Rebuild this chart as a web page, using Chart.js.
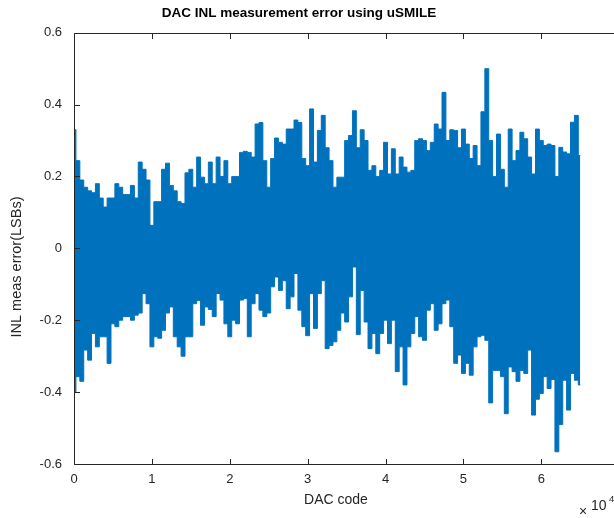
<!DOCTYPE html>
<html>
<head>
<meta charset="utf-8">
<script src="https://cdn.jsdelivr.net/npm/chart.js@4.4.1/dist/chart.umd.min.js"></script>
<style>
  html, body { margin: 0; padding: 0; background: #fff; overflow: hidden; }
  #wrap { width: 640px; height: 518px; }
</style>
</head>
<body>
<div id="wrap"><canvas id="inlchart" width="640" height="518"></canvas></div>
<script>
// envelope of the measured error, one pair per 500 DAC codes (0 .. 65000)
var codeStep = 500;

var upperEnv = [
	0.33, 0.244, 0.19, 0.17, 0.16, 0.155, 0.18, 0.14, 0.115, 0.14, 0.14, 0.18, 0.17, 0.15, 0.15, 0.175,
	0.14, 0.24, 0.22, 0.19, 0.064, 0.13, 0.13, 0.22, 0.237, 0.175, 0.16, 0.13, 0.125, 0.21, 0.22,
	0.17, 0.254, 0.198, 0.18, 0.24, 0.18, 0.254, 0.2, 0.244, 0.18, 0.2, 0.2, 0.267, 0.27, 0.267,
	0.254, 0.346, 0.35, 0.244, 0.17, 0.25, 0.307, 0.295, 0.29, 0.332, 0.332, 0.357, 0.35, 0.25, 0.23,
	0.388, 0.24, 0.328, 0.37, 0.28, 0.244, 0.17, 0.198, 0.198, 0.3, 0.314, 0.383, 0.28, 0.33, 0.3,
	0.217, 0.23, 0.2, 0.217, 0.295, 0.207, 0.277, 0.207, 0.254, 0.226, 0.212, 0.217, 0.3, 0.305, 0.3,
	0.272, 0.295, 0.346, 0.332, 0.434, 0.3, 0.33, 0.328, 0.28, 0.332, 0.29, 0.25, 0.286, 0.23, 0.38,
	0.5, 0.3, 0.2, 0.318, 0.22, 0.17, 0.332, 0.244, 0.272, 0.323, 0.305, 0.254, 0.207, 0.332, 0.3,
	0.286, 0.29, 0.286, 0.2, 0.281, 0.268, 0.263, 0.351, 0.37, 0.258
];

var lowerEnv = [
	-0.40, -0.357, -0.37, -0.283, -0.311, -0.237, -0.274, -0.246, -0.246, -0.32, -0.21, -0.218, -0.2, -0.19, -0.19, -0.2,
	-0.186, -0.18, -0.126, -0.154, -0.274, -0.246, -0.25, -0.228, -0.18, -0.163, -0.246, -0.274, -0.30, -0.246, -0.246,
	-0.154, -0.145, -0.214, -0.163, -0.17, -0.19, -0.126, -0.144, -0.21, -0.246, -0.2, -0.21, -0.144, -0.14, -0.246,
	-0.154, -0.126, -0.172, -0.19, -0.18, -0.107, -0.08, -0.117, -0.09, -0.168, -0.135, -0.07, -0.172, -0.218, -0.243,
	-0.126, -0.223, -0.126, -0.09, -0.279, -0.27, -0.26, -0.228, -0.18, -0.205, -0.135, -0.052, -0.24, -0.117, -0.205,
	-0.279, -0.237, -0.293, -0.237, -0.2, -0.265, -0.2, -0.343, -0.274, -0.38, -0.274, -0.237, -0.19, -0.246, -0.256,
	-0.172, -0.154, -0.228, -0.21, -0.154, -0.144, -0.218, -0.32, -0.297, -0.348, -0.32, -0.353, -0.274, -0.246, -0.242,
	-0.256, -0.43, -0.34, -0.34, -0.357, -0.46, -0.33, -0.343, -0.37, -0.34, -0.348, -0.283, -0.464, -0.42, -0.404,
	-0.357, -0.39, -0.365, -0.566, -0.49, -0.367, -0.45, -0.348, -0.367, -0.38
];

var xTicks = [0, 10000, 20000, 30000, 40000, 50000, 60000, 70000];
var yTicks = [-0.6, -0.4, -0.2, 0, 0.2, 0.4, 0.6];

var titleText = "DAC INL measurement error using uSMILE";
var xLabel = "DAC code";
var yLabel = "INL meas error(LSBs)";

var blue = "#0072BD";
var axisCol = "#262626";
var fam = "'Liberation Sans', Arial, sans-serif";

var upperPts = [];
var lowerPts = [];
for (var i = 0; i < upperEnv.length; i++) {
	upperPts.push({x: i * codeStep, y: upperEnv[i]});
	lowerPts.push({x: i * codeStep, y: lowerEnv[i]});
}

// matlab style box, inward ticks and the labels
var matlabBox = {
	id: "matlabBox",
	afterDraw: function(chart) {
		var ctx = chart.ctx;
		var a = chart.chartArea;
		var xs = chart.scales.x, ys = chart.scales.y;
		var L = Math.round(a.left) + 0.5, R = Math.round(a.right) + 0.5;
		var T = Math.round(a.top) + 0.5, B = Math.round(a.bottom) + 0.5;
		var tl = 5.5;
		ctx.save();
		ctx.strokeStyle = axisCol;
		ctx.lineWidth = 1;
		ctx.beginPath();
		ctx.rect(L, T, R - L, B - T);
		xTicks.forEach(function(v) {
			var px = Math.round(xs.getPixelForValue(v)) + 0.5;
			ctx.moveTo(px, B); ctx.lineTo(px, B - tl);
			ctx.moveTo(px, T); ctx.lineTo(px, T + tl);
		});
		yTicks.forEach(function(v) {
			var py = Math.round(ys.getPixelForValue(v)) + 0.5;
			ctx.moveTo(L, py); ctx.lineTo(L + tl, py);
			ctx.moveTo(R, py); ctx.lineTo(R - tl, py);
		});
		ctx.stroke();

		ctx.fillStyle = "#000";
		ctx.textAlign = "center";
		ctx.textBaseline = "middle";
		ctx.font = "bold 13.5px " + fam;
		ctx.fillText(titleText, 299, 13);

		ctx.fillStyle = axisCol;
		ctx.font = "14px " + fam;
		ctx.fillText(xLabel, 336, 500);
		ctx.save();
		ctx.translate(17, 267);
		ctx.rotate(-Math.PI / 2);
		ctx.font = "14.5px " + fam;
		ctx.fillText(yLabel, 0, 0);
		ctx.restore();

		// x10^4 exponent
		ctx.font = "14px " + fam;
		ctx.textAlign = "left";
		ctx.fillText("\u00d7", 579, 512);
		ctx.fillText("10", 591, 506);
		ctx.font = "9.5px " + fam;
		ctx.fillText("4", 609, 499);
		ctx.restore();
	}
};

var ctx = document.getElementById("inlchart");

var inlChart = new Chart(ctx, {
	type: "line",
	data: {
		datasets: [
			{
				label: "upper",
				data: upperPts,
				borderColor: blue,
				backgroundColor: blue,
				borderWidth: 1,
				pointRadius: 0,
				stepped: "middle",
				fill: "+1"
			},
			{
				label: "lower",
				data: lowerPts,
				borderColor: blue,
				backgroundColor: blue,
				borderWidth: 1,
				pointRadius: 0,
				stepped: "middle",
				fill: false
			}
		]
	},
	options: {
		responsive: false,
		animation: false,
		events: [],
		layout: { padding: { left: 0, top: 32.7, right: 20.8, bottom: 0 } },
		plugins: {
			legend: { display: false },
			title: { display: false },
			tooltip: { enabled: false }
		},
		scales: {
			x: {
				type: "linear",
				min: 0,
				max: 70000,
				grid: { display: false, drawTicks: false },
				border: { display: false },
				afterFit: function(s) { s.height = 54; },
				afterBuildTicks: function(s) { s.ticks = xTicks.map(function(v) { return {value: v}; }); },
				ticks: {
					padding: 8,
					maxRotation: 0,
					color: axisCol,
					font: { family: fam, size: 13 },
					callback: function(v) { return v >= 70000 ? "" : String(v / 10000); }
				}
			},
			y: {
				min: -0.6,
				max: 0.6,
				grid: { display: false, drawTicks: false },
				border: { display: false },
				afterFit: function(s) { s.width = 74; },
				afterBuildTicks: function(s) { s.ticks = yTicks.map(function(v) { return {value: v}; }); },
				ticks: {
					padding: 12,
					color: axisCol,
					font: { family: fam, size: 13 },
					callback: function(v) { return Math.abs(v) < 1e-9 ? "0" : v.toFixed(1); }
				}
			}
		}
	},
	plugins: [matlabBox]
});
</script>
</body>
</html>
